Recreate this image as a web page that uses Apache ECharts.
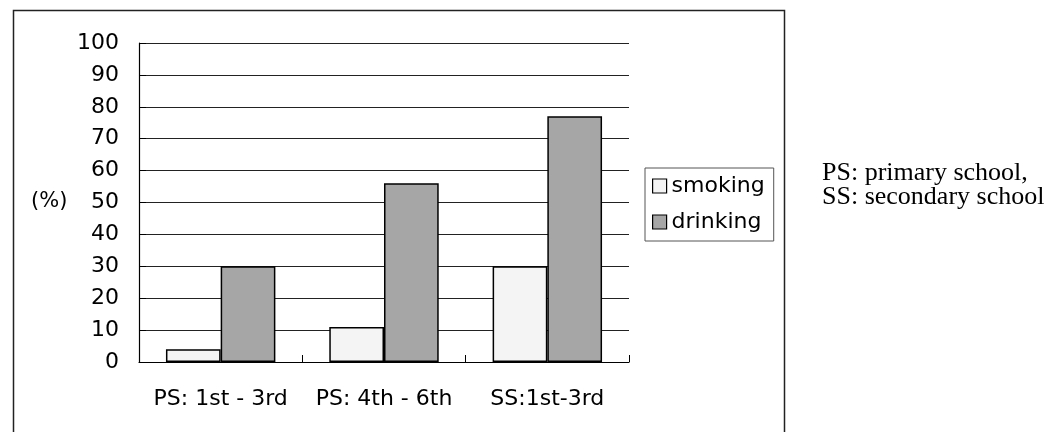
<!DOCTYPE html>
<html>
<head>
<meta charset="utf-8">
<script src="https://cdn.jsdelivr.net/npm/echarts@6/dist/echarts.min.js"></script>
<style>
html,body{margin:0;padding:0;background:#fff;}
#chart{width:1053px;height:432px;}
</style>
</head>
<body>
<div id="chart"></div>
<script>
const categories = ['PS: 1st - 3rd', 'PS: 4th - 6th', 'SS:1st-3rd'];
const smoking = [4, 11, 30];
const drinking = [30, 56, 77];
const seriesNames = ['smoking', 'drinking'];
const noteLines = ['PS: primary school,', 'SS: secondary school'];
const yUnit = '(%)';

const chart = echarts.init(document.getElementById('chart'), null, {renderer: 'canvas'});
const sansFont = 'DejaVu Sans';
const option = {
  backgroundColor: '#fff',
  animation: false,
  grid: {left: 139, right: 424, top: 43, bottom: 70, containLabel: false},
  legend: {
    orient: 'vertical',
    left: 645, top: 168,
    padding: [7, 9, 8, 7],
    itemGap: 14,
    itemWidth: 14, itemHeight: 14,
    borderColor: '#555', borderWidth: 1,
    textStyle: {fontFamily: sansFont, fontSize: 22, color: '#000'},
    data: [
      {name: seriesNames[0], icon: 'rect', itemStyle: {color: '#f4f4f4', borderColor: '#000', borderWidth: 1.2}},
      {name: seriesNames[1], icon: 'rect', itemStyle: {color: '#a6a6a6', borderColor: '#000', borderWidth: 1.2}}
    ]
  },
  xAxis: {
    type: 'category',
    data: categories,
    axisLine: {lineStyle: {color: '#000', width: 1.2}},
    axisTick: {show: true, inside: true, length: 7, lineStyle: {color: '#000'}},
    axisLabel: {interval: 0, margin: 26, fontFamily: sansFont, fontSize: 22, color: '#000'}
  },
  yAxis: {
    type: 'value', min: 0, max: 100, interval: 10,
    axisLine: {show: true, lineStyle: {color: '#000', width: 1.2}},
    axisTick: {show: true, inside: true, length: 7, lineStyle: {color: '#000'}},
    axisLabel: {margin: 20, fontFamily: sansFont, fontSize: 22, color: '#000'},
    splitLine: {show: true, lineStyle: {color: '#222', width: 1}}
  },
  series: [
    {name: seriesNames[0], type: 'bar', data: smoking, barGap: '0%', barCategoryGap: '33%',
     itemStyle: {color: '#f4f4f4', borderColor: '#000', borderWidth: 1.5}},
    {name: seriesNames[1], type: 'bar', data: drinking, barGap: '0%', barCategoryGap: '33%',
     itemStyle: {color: '#a6a6a6', borderColor: '#000', borderWidth: 1.5}}
  ],
  graphic: [
    {type: 'rect', left: 11, top: 8, z: -1, silent: true,
     shape: {width: 771, height: 440},
     style: {fill: 'none', stroke: '#222', lineWidth: 1.5}},
    {type: 'text', left: 31, top: 191,
     style: {text: yUnit, font: '21px "DejaVu Sans"', fill: '#000'}},
    {type: 'text', left: 822, top: 160,
     style: {text: noteLines.join('\n'), font: '26px "Liberation Serif"', lineHeight: 24, fill: '#000'}}
  ]
};
chart.setOption(option);
</script>
</body>
</html>
